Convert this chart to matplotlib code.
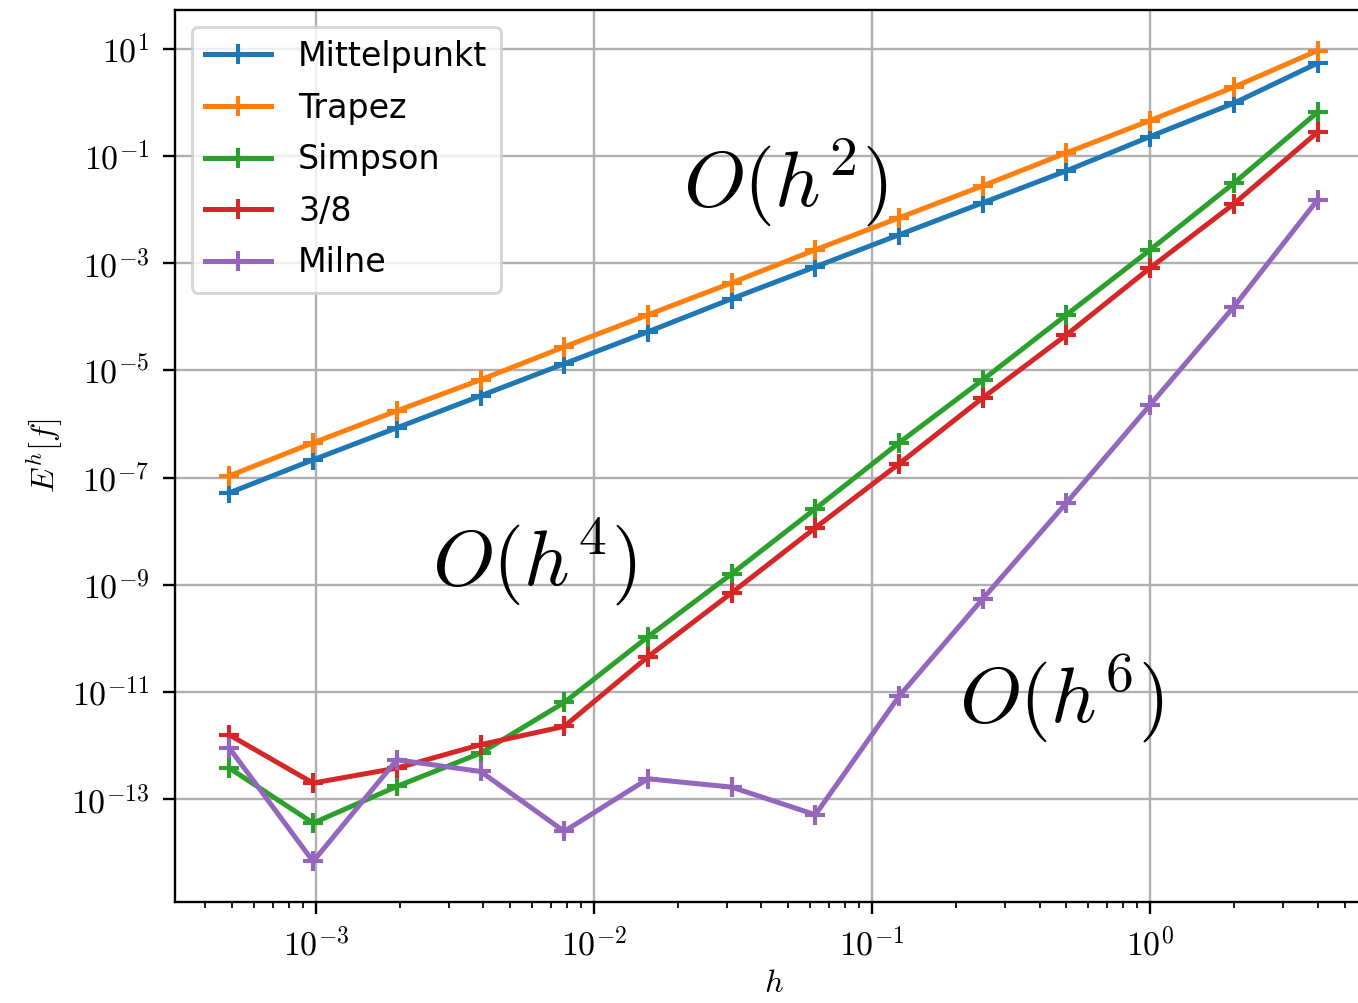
import numpy as np
import matplotlib
matplotlib.use("Agg")
import matplotlib.pyplot as plt
import matplotlib.ticker as ticker

plt.rcParams['mathtext.fontset'] = 'cm'

# step sizes h (largest to smallest)
h = [4, 2, 1, 0.5, 0.25, 0.125, 0.0625, 0.03125, 0.015625, 0.0078125,
     0.00390625, 0.001953125, 0.0009765625, 0.00048828125]

err_mittelpunkt = [5.41, 0.970, 0.231, 0.0530, 0.0134, 3.39e-3, 8.57e-4, 2.17e-4,
                   5.25e-5, 1.33e-5, 3.36e-6, 8.49e-7, 2.15e-7, 5.20e-8]
err_trapez = [9.29, 1.93, 0.460, 0.115, 0.0278, 7.03e-3, 1.78e-3, 4.31e-4,
              1.09e-4, 2.75e-5, 6.68e-6, 1.76e-6, 4.46e-7, 1.08e-7]
err_simpson = [0.659, 0.0312, 1.78e-3, 1.09e-4, 6.68e-6, 4.46e-7, 2.62e-8, 1.60e-9,
               1.07e-10, 6.37e-12, 7.24e-13, 1.73e-13, 3.58e-14, 3.80e-13]
err_38 = [0.279, 0.0128, 8.20e-4, 4.61e-5, 3.08e-6, 1.81e-7, 1.16e-8, 7.08e-10,
          4.54e-11, 2.28e-12, 1.04e-12, 3.80e-13, 2.00e-13, 1.58e-12]
err_milne = [0.0152, 1.54e-4, 2.28e-6, 3.39e-8, 5.48e-10, 8.32e-12, 5.13e-14, 1.68e-13,
             2.40e-13, 2.51e-14, 3.29e-13, 5.43e-13, 6.89e-15, 8.97e-13]

series = [("Mittelpunkt", err_mittelpunkt),
          ("Trapez", err_trapez),
          ("Simpson", err_simpson),
          ("3/8", err_38),
          ("Milne", err_milne)]

fig = plt.figure(figsize=(1358 / 212, 1003 / 212), dpi=212)
ax = fig.add_axes([175 / 1358, 1 - 902 / 1003, 1197 / 1358, 892 / 1003])

for name, vals in series:
    ax.plot(h, vals, marker='+', lw=1.7, ms=6.5, mew=1.4, label=name)

ax.set_xscale('log')
ax.set_yscale('log')

ax.yaxis.set_major_locator(ticker.FixedLocator([10.0 ** k for k in range(-13, 2, 2)]))
ax.yaxis.set_minor_locator(ticker.NullLocator())
ax.xaxis.set_major_locator(ticker.LogLocator(base=10))
ax.xaxis.set_minor_locator(ticker.LogLocator(base=10, subs=np.arange(2, 10)))
ax.xaxis.set_minor_formatter(ticker.NullFormatter())

fmt = ticker.FuncFormatter(lambda v, _: r'$10^{%d}$' % int(round(np.log10(v))))
ax.xaxis.set_major_formatter(fmt)
ax.yaxis.set_major_formatter(fmt)
ax.tick_params(axis='both', which='major', labelsize=11.5, length=4.2, pad=4.5)
ax.tick_params(axis='x', which='minor', length=2.0)

ax.grid(True, which='major', color='#b0b0b0', lw=0.8)
ax.set_xlabel(r'$h$', fontsize=11, labelpad=1.5)
ax.set_ylabel(r'$E^h[f]$', fontsize=11, labelpad=2)

ax.legend(loc='upper left', fontsize=11.3, labelspacing=0.56)

ax.text(0.51, 0.807, r'$O(h^2)$', transform=ax.transAxes, fontsize=27, ha='center', va='center')
ax.text(0.30, 0.382, r'$O(h^4)$', transform=ax.transAxes, fontsize=27, ha='center', va='center')
ax.text(0.74, 0.229, r'$O(h^6)$', transform=ax.transAxes, fontsize=27, ha='center', va='center')

fig.savefig("out.png", dpi=212)
